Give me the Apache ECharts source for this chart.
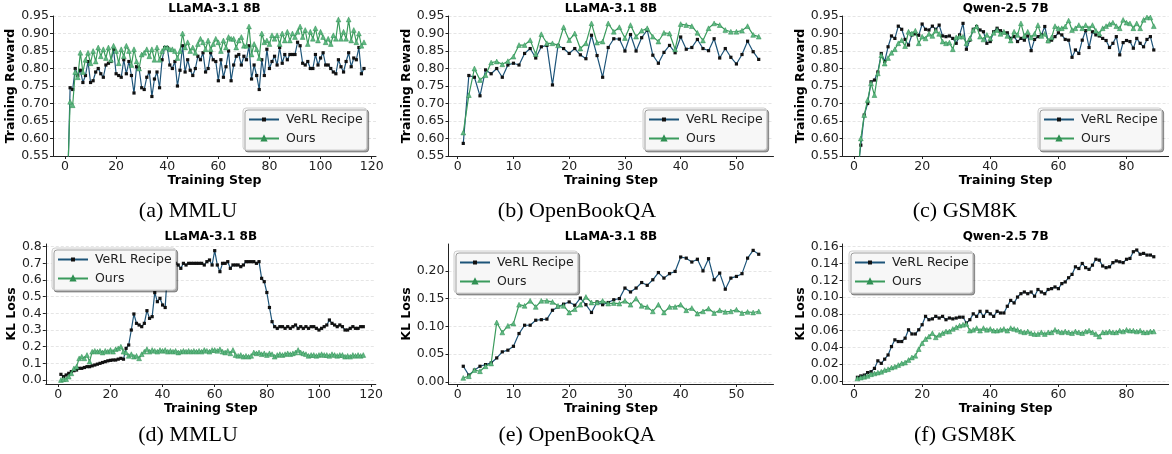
<!DOCTYPE html>
<html>
<head>
<meta charset="utf-8">
<script src="https://cdn.jsdelivr.net/npm/echarts@6/dist/echarts.min.js"></script>
<style>
  html, body { margin: 0; padding: 0; background: #fff; }
  #chart { width: 1172px; height: 454px; }
</style>
</head>
<body>
<div id="chart"></div>
<script>
// ---- data (value per training step, starting at step 1) ----
const mmluRewardVerl = [0.45,0.745,0.74,0.80,0.78,0.795,0.76,0.78,0.82,0.76,0.765,0.79,0.80,0.785,0.775,0.81,0.815,0.82,0.855,0.785,
  0.78,0.775,0.825,0.785,0.82,0.78,0.73,0.805,0.80,0.745,0.74,0.775,0.79,0.72,0.77,0.79,0.745,0.825,0.86,0.86,
  0.81,0.80,0.82,0.75,0.795,0.865,0.79,0.825,0.795,0.78,0.80,0.835,0.825,0.845,0.79,0.80,0.845,0.825,0.82,0.765,
  0.825,0.775,0.805,0.85,0.765,0.81,0.835,0.84,0.81,0.835,0.825,0.865,0.77,0.81,0.78,0.74,0.825,0.78,0.855,0.80,
  0.82,0.835,0.81,0.86,0.815,0.84,0.825,0.84,0.84,0.84,0.875,0.865,0.815,0.81,0.82,0.80,0.80,0.84,0.81,0.83,
  0.845,0.81,0.81,0.80,0.79,0.785,0.825,0.805,0.79,0.82,0.845,0.805,0.83,0.825,0.86,0.785,0.80];
const mmluRewardOurs = [0.48,0.705,0.695,0.79,0.775,0.845,0.79,0.825,0.845,0.815,0.85,0.82,0.86,0.835,0.855,0.83,0.86,0.825,0.865,0.85,
  0.815,0.855,0.835,0.865,0.85,0.81,0.855,0.82,0.80,0.84,0.845,0.855,0.835,0.855,0.825,0.86,0.825,0.85,0.86,0.86,
  0.855,0.855,0.85,0.83,0.85,0.90,0.86,0.875,0.85,0.86,0.845,0.87,0.885,0.875,0.855,0.88,0.855,0.87,0.885,0.875,
  0.85,0.88,0.86,0.89,0.885,0.885,0.86,0.88,0.89,0.865,0.865,0.92,0.84,0.87,0.855,0.83,0.90,0.875,0.88,0.87,
  0.895,0.885,0.895,0.87,0.90,0.88,0.905,0.88,0.90,0.89,0.905,0.92,0.89,0.91,0.87,0.905,0.885,0.915,0.88,0.905,
  0.89,0.875,0.885,0.87,0.895,0.885,0.94,0.885,0.905,0.885,0.94,0.88,0.91,0.875,0.90,0.865,0.875];

const obqaRewardVerl = [0.586,0.78,0.775,0.722,0.796,0.785,0.80,0.775,0.81,0.815,0.81,0.843,0.857,0.83,0.862,0.866,0.753,0.866,0.857,0.843,
  0.857,0.839,0.828,0.895,0.837,0.775,0.86,0.885,0.884,0.85,0.897,0.85,0.888,0.91,0.838,0.815,0.846,0.866,0.845,0.89,
  0.855,0.86,0.883,0.857,0.851,0.885,0.83,0.857,0.832,0.813,0.84,0.878,0.848,0.826];
const obqaRewardOurs = [0.617,0.724,0.80,0.767,0.781,0.817,0.82,0.812,0.821,0.834,0.867,0.867,0.881,0.841,0.898,0.872,0.872,0.866,0.918,0.881,
  0.90,0.857,0.872,0.929,0.874,0.877,0.929,0.905,0.918,0.887,0.924,0.891,0.908,0.915,0.891,0.877,0.902,0.90,0.855,0.927,
  0.924,0.921,0.902,0.88,0.915,0.929,0.924,0.91,0.905,0.905,0.908,0.921,0.896,0.891];

const gsmRewardVerl = [0.50,0.581,0.667,0.70,0.762,0.767,0.79,0.843,0.82,0.862,0.893,0.886,0.921,0.912,0.883,0.867,0.896,0.899,0.895,0.927,
  0.912,0.91,0.921,0.912,0.924,0.893,0.891,0.893,0.886,0.872,0.896,0.929,0.855,0.881,0.912,0.92,0.91,0.905,0.872,0.877,
  0.905,0.915,0.908,0.902,0.902,0.886,0.891,0.877,0.886,0.881,0.893,0.851,0.883,0.891,0.896,0.92,0.877,0.881,0.891,0.902,
  0.896,0.883,0.881,0.832,0.853,0.843,0.881,0.908,0.86,0.905,0.896,0.893,0.886,0.88,0.86,0.872,0.891,0.839,0.874,0.88,
  0.877,0.858,0.886,0.872,0.862,0.883,0.891,0.853];
const gsmRewardOurs = [0.47,0.60,0.667,0.71,0.758,0.724,0.786,0.838,0.814,0.83,0.845,0.855,0.872,0.881,0.864,0.905,0.90,0.908,0.872,0.891,
  0.886,0.899,0.893,0.908,0.899,0.877,0.872,0.874,0.855,0.889,0.891,0.891,0.872,0.886,0.91,0.92,0.891,0.883,0.896,0.886,
  0.902,0.91,0.899,0.905,0.893,0.88,0.905,0.896,0.929,0.893,0.905,0.889,0.899,0.924,0.893,0.899,0.88,0.889,0.921,0.915,
  0.915,0.92,0.937,0.91,0.915,0.924,0.915,0.924,0.915,0.924,0.908,0.90,0.915,0.921,0.927,0.931,0.921,0.915,0.939,0.931,
  0.929,0.915,0.929,0.915,0.939,0.946,0.946,0.921];

const mmluKlVerl = [0.034,0.02,0.03,0.04,0.05,0.056,0.06,0.07,0.07,0.075,0.08,0.08,0.085,0.09,0.095,0.10,0.105,0.11,0.115,0.118,
  0.12,0.12,0.125,0.13,0.125,0.19,0.21,0.30,0.396,0.34,0.33,0.32,0.34,0.416,0.37,0.38,0.524,0.47,0.49,0.45,
  0.435,0.69,0.68,0.68,0.70,0.69,0.67,0.70,0.69,0.70,0.70,0.70,0.70,0.70,0.70,0.69,0.71,0.72,0.69,0.776,
  0.69,0.65,0.70,0.70,0.71,0.67,0.69,0.69,0.69,0.68,0.69,0.71,0.71,0.71,0.71,0.70,0.71,0.61,0.59,0.525,
  0.435,0.35,0.32,0.31,0.32,0.32,0.31,0.32,0.31,0.32,0.33,0.31,0.32,0.31,0.32,0.31,0.32,0.32,0.31,0.30,
  0.31,0.32,0.33,0.36,0.34,0.33,0.32,0.33,0.32,0.30,0.30,0.31,0.32,0.31,0.31,0.32,0.32];
const mmluKlOurs = [0.0,0.005,0.005,0.02,0.04,0.07,0.08,0.13,0.14,0.13,0.15,0.11,0.17,0.175,0.17,0.175,0.165,0.175,0.17,0.18,
  0.17,0.185,0.19,0.20,0.17,0.165,0.145,0.155,0.14,0.145,0.13,0.155,0.17,0.185,0.17,0.18,0.175,0.17,0.18,0.175,
  0.18,0.17,0.175,0.17,0.175,0.165,0.17,0.175,0.17,0.175,0.17,0.175,0.17,0.175,0.17,0.18,0.175,0.17,0.18,0.18,
  0.175,0.185,0.17,0.165,0.175,0.16,0.18,0.15,0.145,0.15,0.14,0.145,0.14,0.145,0.165,0.16,0.165,0.155,0.16,0.15,
  0.16,0.155,0.14,0.15,0.155,0.15,0.155,0.16,0.155,0.16,0.165,0.18,0.165,0.16,0.155,0.145,0.15,0.15,0.145,0.15,
  0.155,0.15,0.15,0.145,0.155,0.15,0.145,0.15,0.15,0.14,0.145,0.14,0.15,0.145,0.15,0.145,0.15];

const obqaKlVerl = [0.028,0.012,0.021,0.028,0.031,0.034,0.043,0.054,0.057,0.064,0.087,0.102,0.102,0.111,0.112,0.113,0.129,0.135,0.14,0.144,
  0.138,0.151,0.139,0.125,0.144,0.139,0.143,0.148,0.15,0.169,0.162,0.169,0.179,0.174,0.184,0.197,0.187,0.195,0.199,0.225,
  0.223,0.216,0.221,0.20,0.222,0.184,0.196,0.167,0.187,0.19,0.195,0.223,0.237,0.23];
const obqaKlOurs = [0.007,0.010,0.021,0.019,0.028,0.033,0.107,0.089,0.101,0.105,0.139,0.137,0.146,0.135,0.146,0.146,0.144,0.137,0.137,0.125,
  0.131,0.139,0.153,0.143,0.143,0.146,0.141,0.142,0.141,0.146,0.139,0.15,0.137,0.135,0.127,0.139,0.125,0.135,0.135,0.139,
  0.129,0.133,0.123,0.127,0.132,0.124,0.129,0.126,0.127,0.13,0.124,0.126,0.125,0.127];

const gsmKlVerl = [0.0044,0.006,0.007,0.010,0.011,0.015,0.024,0.021,0.026,0.031,0.041,0.049,0.047,0.047,0.051,0.061,0.056,0.056,0.061,0.067,
  0.077,0.073,0.074,0.077,0.075,0.077,0.073,0.075,0.074,0.075,0.076,0.076,0.069,0.073,0.080,0.077,0.083,0.077,0.083,0.080,
  0.077,0.083,0.081,0.081,0.089,0.096,0.093,0.100,0.104,0.106,0.104,0.106,0.101,0.109,0.106,0.104,0.109,0.110,0.112,0.110,
  0.116,0.118,0.123,0.127,0.136,0.134,0.140,0.135,0.133,0.138,0.145,0.144,0.137,0.135,0.136,0.141,0.143,0.142,0.141,0.145,
  0.146,0.154,0.156,0.151,0.152,0.150,0.150,0.148];
const gsmKlOurs = [0.003,0.004,0.005,0.006,0.008,0.009,0.010,0.011,0.013,0.014,0.016,0.017,0.019,0.021,0.022,0.025,0.028,0.030,0.038,0.045,
  0.050,0.053,0.057,0.052,0.055,0.057,0.059,0.059,0.062,0.064,0.066,0.067,0.068,0.060,0.061,0.063,0.060,0.063,0.061,0.062,
  0.060,0.060,0.061,0.062,0.060,0.063,0.062,0.061,0.059,0.058,0.059,0.057,0.056,0.056,0.058,0.056,0.058,0.058,0.061,0.059,
  0.058,0.059,0.058,0.057,0.059,0.058,0.057,0.059,0.060,0.058,0.056,0.053,0.058,0.058,0.059,0.058,0.058,0.060,0.059,0.061,
  0.060,0.060,0.059,0.060,0.058,0.058,0.059,0.059];

// ---- tick labels ----
const rewardTicks = [0.55,0.60,0.65,0.70,0.75,0.80,0.85,0.90,0.95];
const mmluKlTicks = [0.0,0.1,0.2,0.3,0.4,0.5,0.6,0.7,0.8];
const obqaKlTicks = [0.00,0.05,0.10,0.15,0.20];
const gsmKlTicks = [0.00,0.02,0.04,0.06,0.08,0.10,0.12,0.14,0.16];
const stepTicks120 = [0,20,40,60,80,100,120];
const stepTicks50 = [0,10,20,30,40,50];
const stepTicks80 = [0,20,40,60,80];

const seriesNames = ['VeRL Recipe', 'Ours'];

// ---- panel layout ----
const panels = [
  {grid:{left:53, top:16, width:323, height:140}, x:[-4.7,121.7], xt:stepTicks120, y:[0.55,0.95], yt:rewardTicks, dig:2,
   yName:'Training Reward', gap:34, title:'LLaMA-3.1 8B', cap:'(a) MMLU', capX:188, capY:200, leg:{left:243, top:108},
   verl:mmluRewardVerl, ours:mmluRewardOurs},
  {grid:{left:448.5, top:16, width:325, height:140}, x:[-1.65,56.65], xt:stepTicks50, y:[0.55,0.95], yt:rewardTicks, dig:2,
   yName:'Training Reward', gap:34, title:'LLaMA-3.1 8B', cap:'(b) OpenBookQA', capX:577, capY:200, leg:{left:643, top:108},
   verl:obqaRewardVerl, ours:obqaRewardOurs},
  {grid:{left:842.6, top:16, width:326, height:140}, x:[-3.35,92.35], xt:stepTicks80, y:[0.55,0.95], yt:rewardTicks, dig:2,
   yName:'Training Reward', gap:34, title:'Qwen-2.5 7B', cap:'(c) GSM8K', capX:965, capY:200, leg:{left:1038, top:108},
   verl:gsmRewardVerl, ours:gsmRewardOurs},
  {grid:{left:45.8, top:244, width:330, height:140}, x:[-4.8,121.8], xt:stepTicks120, y:[-0.024,0.816], yt:mmluKlTicks, dig:1,
   yName:'KL Loss', gap:26, title:'LLaMA-3.1 8B', cap:'(d) MMLU', capX:188, capY:424, leg:{left:52, top:248},
   verl:mmluKlVerl, ours:mmluKlOurs},
  {grid:{left:448.5, top:244, width:325, height:140}, x:[-1.65,56.65], xt:stepTicks50, y:[-0.004,0.2485], yt:obqaKlTicks, dig:2,
   yName:'KL Loss', gap:34, title:'LLaMA-3.1 8B', cap:'(e) OpenBookQA', capX:577, capY:424, leg:{left:454, top:251},
   verl:obqaKlVerl, ours:obqaKlOurs},
  {grid:{left:842.6, top:244, width:326, height:140}, x:[-3.35,92.35], xt:stepTicks80, y:[-0.0036,0.1632], yt:gsmKlTicks, dig:2,
   yName:'KL Loss', gap:33.5, title:'Qwen-2.5 7B', cap:'(f) GSM8K', capX:965, capY:424, leg:{left:849, top:251},
   verl:gsmKlVerl, ours:gsmKlOurs}
];

const FONT = 'DejaVu Sans';
const toPoints = arr => arr.map((v, i) => [i + 1, v]);

const option = {
  animation: false,
  backgroundColor: '#fff',
  title: [],
  legend: [],
  grid: [],
  xAxis: [],
  yAxis: [],
  series: []
};

panels.forEach((p, i) => {
  option.grid.push(Object.assign({containLabel: false, outerBoundsMode: 'none'}, p.grid));
  const cx = p.grid.left + p.grid.width / 2;
  option.title.push({
    text: p.title, left: cx, top: p.grid.top - 13, textAlign: 'center', padding: 0,
    textStyle: {fontFamily: FONT, fontWeight: 'bold', fontSize: 12, color: '#000'}
  });
  option.title.push({
    text: p.cap, left: p.capX, top: p.capY, textAlign: 'center', padding: 0,
    textStyle: {fontFamily: 'Liberation Serif', fontWeight: 'normal', fontSize: 22, color: '#000'}
  });
  option.legend.push({
    data: seriesNames, orient: 'vertical', left: p.leg.left, top: p.leg.top,
    itemWidth: 30, itemHeight: 5, itemGap: 6, padding: [5, 4, 5, 5],
    backgroundColor: '#f7f7f7', borderColor: '#cfcfcf', borderWidth: 1, borderRadius: 3,
    shadowColor: 'rgba(0,0,0,0.35)', shadowOffsetX: 2, shadowOffsetY: 2, shadowBlur: 0,
    selectedMode: false,
    textStyle: {fontFamily: FONT, fontSize: 12.5, color: '#222', padding: [0, 0, 0, 2]}
  });
  option.xAxis.push({
    gridIndex: i, type: 'value', min: p.x[0], max: p.x[1],
    name: 'Training Step', nameLocation: 'middle', nameGap: 18,
    nameTextStyle: {fontFamily: FONT, fontWeight: 'bold', fontSize: 12.5, color: '#000'},
    axisLine: {onZero: false, lineStyle: {color: '#222', width: 1}},
    axisTick: {customValues: p.xt, length: 3, lineStyle: {color: '#222'}},
    axisLabel: {customValues: p.xt, margin: 4, fontFamily: FONT, fontSize: 12.5, color: '#222'},
    splitLine: {show: false}
  });
  option.yAxis.push({
    gridIndex: i, type: 'value', min: p.y[0], max: p.y[1],
    name: p.yName, nameLocation: 'middle', nameGap: p.gap, nameRotate: 90,
    nameTextStyle: {fontFamily: FONT, fontWeight: 'bold', fontSize: 12.5, color: '#000'},
    axisLine: {show: true, onZero: false, lineStyle: {color: '#222', width: 1}},
    axisTick: {show: true, customValues: p.yt, length: 3, lineStyle: {color: '#222'}},
    axisLabel: {customValues: p.yt, margin: 4, fontFamily: FONT, fontSize: 12.5, color: '#222',
      formatter: v => Number(v).toFixed(p.dig)},
    splitLine: {show: true, lineStyle: {color: '#dedede', width: 0.8, type: [3, 2]}}
  });
  option.series.push({
    type: 'line', name: 'VeRL Recipe', xAxisIndex: i, yAxisIndex: i,
    data: toPoints(p.verl), symbol: 'rect', symbolSize: 3.2, showAllSymbol: true,
    lineStyle: {color: '#1d5479', width: 1.2}, itemStyle: {color: '#111'}, z: 2
  });
  option.series.push({
    type: 'line', name: 'Ours', xAxisIndex: i, yAxisIndex: i,
    data: toPoints(p.ours), symbol: 'triangle', symbolSize: 4.8, showAllSymbol: true,
    lineStyle: {color: '#3a9b5c', width: 1.2},
    itemStyle: {color: '#5fb882', borderColor: '#2f8f52', borderWidth: 0.5}, z: 3
  });
});

const chart = echarts.init(document.getElementById('chart'));
chart.setOption(option);
</script>
</body>
</html>
